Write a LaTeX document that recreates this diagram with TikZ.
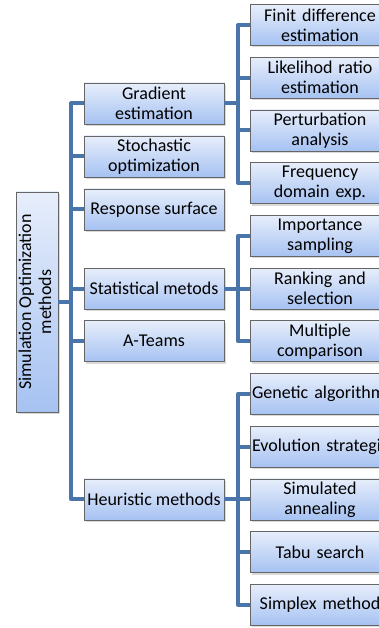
\documentclass[tikz,border=0pt]{standalone}
\usepackage{fontspec}
\setmainfont{Carlito}
\usetikzlibrary{positioning,shadows}
\definecolor{boxtop}{HTML}{E7EEFB}
\definecolor{boxbot}{HTML}{A6C2F2}
\definecolor{linkblue}{HTML}{4A75AA}
\tikzset{%
  every box/.style={
    draw=black!60,
    line width=0.6pt,
    top color=boxtop,
    bottom color=boxbot,
    drop shadow={shadow xshift=2pt,shadow yshift=-2pt,opacity=0.3},
    align=center,
    inner sep=1pt,
    outer sep=0pt,
    font=\fontsize{18}{20}\selectfont
  },
}

\begin{document}
\begin{tikzpicture}[x=1pt,y=1pt,node distance=11.7pt]
      \tikzstyle{branch}=[every box,minimum width=140pt,minimum height=41pt]
      \tikzstyle{leaf}=[every box,text width=136pt,minimum width=140pt,minimum height=41pt]
      \tikzstyle{rootbox}=[every box,minimum width=42pt,minimum height=220pt]
      \tikzstyle{link}=[linkblue,line width=4pt,line join=round]
      \useasboundingbox (0,0) rectangle (379,-628);

      % right column
      \node[leaf] (fd) at (320,-25) {Finit difference\\estimation};
      \node[leaf,below=of fd] (lr) {Likelihod ratio\\estimation};
      \node[leaf,below=of lr] (pa) {Perturbation\\analysis};
      \node[leaf,below=of pa] (fq) {Frequency\\domain exp.};
      \node[leaf,below=of fq] (imp) {Importance\\sampling};
      \node[leaf,below=of imp] (rank) {Ranking and\\selection};
      \node[leaf,below=of rank] (mult) {Multiple\\comparison};
      \node[leaf,below=of mult] (gen) {\mbox{Genetic algorithms}};
      \node[leaf,below=of gen] (evo) {\mbox{Evolution strategies}};
      \node[leaf,below=of evo] (anneal) {Simulated\\annealing};
      \node[leaf,below=of anneal] (tabu) {Tabu search};
      \node[leaf,below=of tabu] (simplex) {Simplex method};

      % middle column
      \node[branch] (grad) at (154,-103.5) {Gradient\\estimation};
      \node[branch,below=12pt of grad] (stoch) {Stochastic\\optimization};
      \node[branch,below=12pt of stoch] (resp) {Response surface};
      \node[branch,left=26pt of rank] (stat) {Statistical metods};
      \node[branch,left=26pt of mult] (ateam) {A-Teams};
      \node[branch,left=26pt of anneal] (heur) {Heuristic methods};

      \node[rootbox] (som) at (37,-302)
        {\rotatebox{90}{\begin{tabular}{@{}c@{}}Simulation Optimization\\methods\end{tabular}}};

      \draw[link] (som.east) -- ++(13,0) coordinate (s0);
      \foreach \n in {grad,stoch,resp,stat,ateam,heur}
        \draw[link] (\n.west) -| (s0);

      \draw[link] (grad.east) -- ++(14,0) coordinate (s1);
      \foreach \n in {fd,lr,pa,fq}
        \draw[link] (\n.west) -| (s1);

      \draw[link] (stat.east) -- ++(14,0) coordinate (s2);
      \foreach \n in {imp,rank,mult}
        \draw[link] (\n.west) -| (s2);

      \draw[link] (heur.east) -- ++(14,0) coordinate (s3);
      \foreach \n in {gen,evo,anneal,tabu,simplex}
        \draw[link] (\n.west) -| (s3);
\end{tikzpicture}
\end{document}
